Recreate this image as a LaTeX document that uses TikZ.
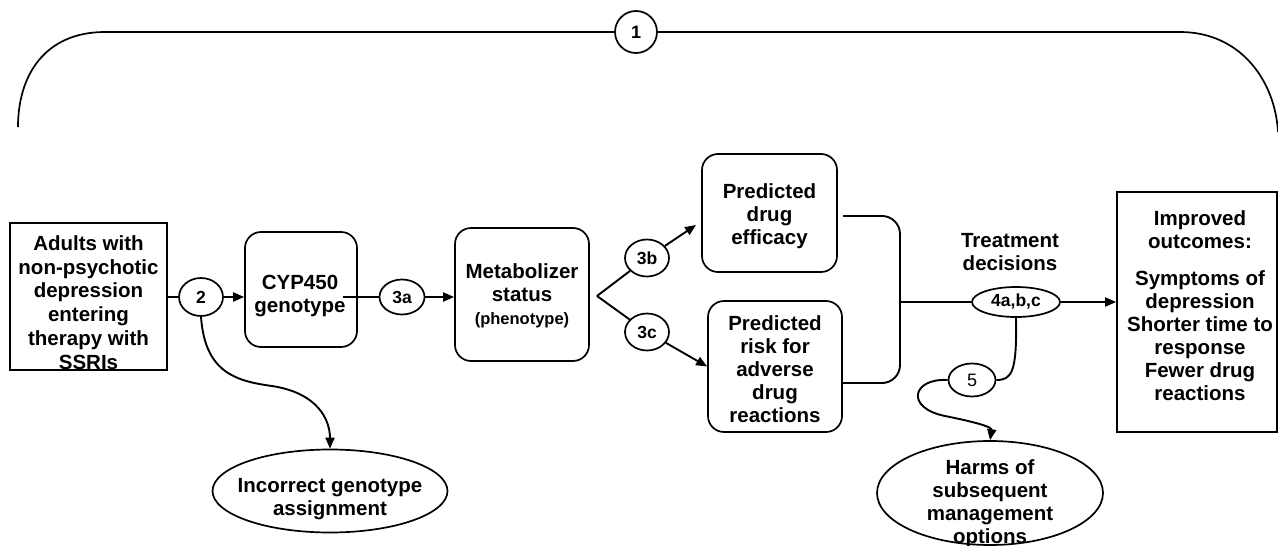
\documentclass[tikz,border=0pt]{standalone}
\usepackage{fontspec}
\setmainfont{Liberation Sans}
\usetikzlibrary{shapes.geometric,arrows.meta}
\begin{document}
\begin{tikzpicture}[x=1pt,y=-1pt,
  every node/.style={font=\bfseries\fontsize{20.5}{23}\selectfont, align=center, inner sep=0pt},
  sqbox/.style={draw, line width=1.7pt, rectangle},
  rbox/.style={draw, line width=1.7pt, rounded corners=16pt},
  oval/.style={draw, ellipse, line width=1.7pt, font=\bfseries\fontsize{17.5}{20}\selectfont},
  conn/.style={line width=1.9pt},
  arr/.style={conn, -{Triangle[length=11pt,width=9pt]}},
]
\useasboundingbox (0,0) rectangle (1278,546);

% top bracket
\node[draw, circle, line width=1.7pt, minimum size=42pt, font=\bfseries\fontsize{18}{20}\selectfont] (c1) at (636,32) {1};
\coordinate (topL) at (18,127);
\coordinate (topR) at (1278,132);
\draw[line width=1.7pt] (c1.west) -- (105,32) .. controls (45,32) and (18,75) .. (topL);
\draw[line width=1.7pt] (c1.east) -- (1180,32) .. controls (1240,32) and (1275,80) .. (topR);

% nodes
\node[sqbox, minimum width=157pt, minimum height=147pt] (adults) at (88.5,296.5) {};
\node[font=\bfseries\fontsize{20.5}{23.7}\selectfont] (adultsT) at (88.5,302.5) {Adults with\\non-psychotic\\depression\\entering\\therapy with\\SSRIs};

\node[rbox, minimum width=112pt, minimum height=115pt] (cyp) at (301,289.5) {};
\node (cypT) at (300,296) {CYP450\\genotype};
\node[rbox, minimum width=134pt, minimum height=133pt] (meta) at (522,294.5) {};
\node (metaT) at (522,296) {Metabolizer\\status\\{\fontsize{16.5}{20}\selectfont (phenotype)}};

\node[oval, minimum width=44pt, minimum height=38pt] (c2) at (201,297) {2};
\node[oval, minimum width=45pt, minimum height=35pt] (c3a) at (402,297) {3a};
\node[oval, minimum width=44pt, minimum height=37pt] (c3b) at (647,258) {3b};
\node[oval, minimum width=44pt, minimum height=37pt] (c3c) at (647,332) {3c};

\node[rbox, minimum width=135pt, minimum height=118pt] (eff) at (769.5,213) {};
\node (effT) at (769.5,216) {Predicted\\drug\\efficacy};
\node[rbox, minimum width=134pt, minimum height=131pt] (risk) at (775,366.5) {};
\node (riskT) at (775,369) {Predicted\\risk for\\adverse\\drug\\reactions};

\node (treat) at (1010,252) {Treatment\\decisions};
\node[oval, minimum width=88pt, minimum height=30pt] (c4) at (1016,302) {4a,b,c};

\node[sqbox, minimum width=160pt, minimum height=240pt] (impr) at (1197,312) {};
\node (imprT) at (1200,306) {Improved\\outcomes:\\[14pt]Symptoms of\\depression\\Shorter time to\\response\\Fewer drug\\reactions};

\node[oval, minimum width=47pt, minimum height=33pt, font=\fontsize{18}{20}\selectfont] (c5) at (972,380) {5};
\node[oval, minimum width=226pt, minimum height=104pt] (harms) at (990,493) {};
\node (harmsT) at (990,504) {Harms of\\subsequent\\management\\options};

\node[oval, minimum width=235pt, minimum height=83pt] (incor) at (330,491) {};
\node (incorT) at (330,499) {Incorrect genotype\\assignment};

% connectors
\draw[conn] (adults.east |- c2.west) -- (c2.west);
\draw[arr] (c2.east) -- (cyp.west |- c2.east);
\coordinate (cypout) at (343,297);
\draw[conn] (cypout) -- (c3a.west);
\draw[arr] (c3a.east) -- (meta.west |- c3a.east);
\coordinate (fork) at (597,296);
\draw[conn] (fork) -- (c3b);
\draw[conn] (fork) -- (c3c);
\coordinate (effin) at (696,225);
\draw[arr] (c3b) -- (effin);
\draw[arr] (c3c) -- (risk.west);

\coordinate (brT) at (843,216);
\coordinate (brB) at (843,383);
\coordinate (brM) at (900,302);
\draw[conn, rounded corners=18pt] (brT) -- (900,216) -- (900,383) -- (brB);
\draw[conn] (brM) -- (c4.west);
\draw[arr] (c4.east) -- (impr.west |- c4.east);
\draw[conn] (c4.south) .. controls (1017,372) and (1012,380) .. (c5.east);
\draw[arr] (c5.west) .. controls (912,378) and (905,408) .. (945,416) .. controls (985,424) and (992,428) .. (harms.north);
\draw[arr] (c2.south) .. controls (205,372) and (235,381) .. (272,386) .. controls (318,393) and (330,420) .. (incor.north);
\end{tikzpicture}
\end{document}
